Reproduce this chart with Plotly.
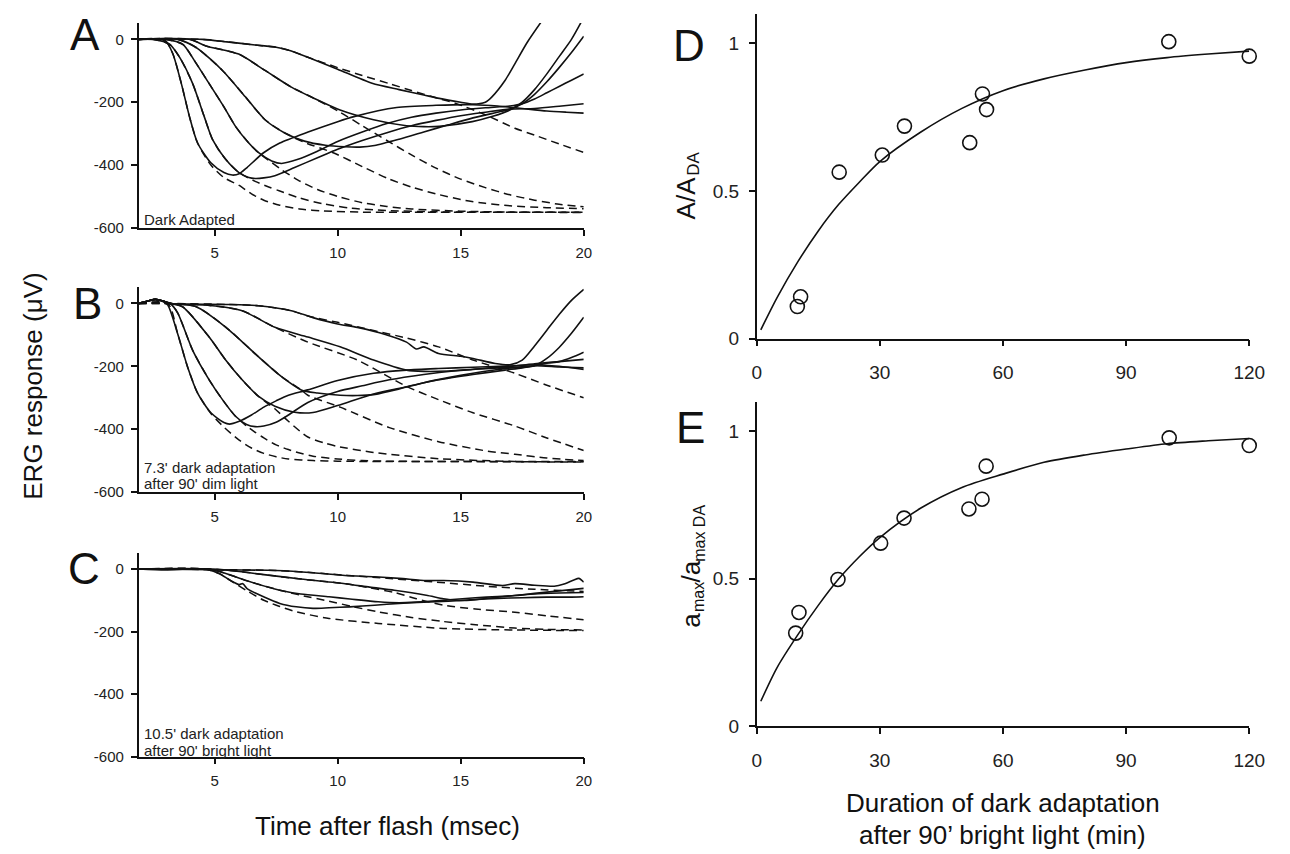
import plotly.graph_objects as go

W, H = 1290, 854

# ---------------- Panel A : Dark Adapted (solid = recorded, dashed = model) ----------------
A_s1_t = [1.91, 2.5, 3.0, 3.3, 3.65, 3.98, 4.31, 4.85, 5.38, 5.72, 6.0, 6.32, 6.99, 7.65, 8.8, 10.0, 10.66, 12.4, 14.0, 15.5, 16.5, 17.5, 18.5, 19.3, 20]
A_s1_v = [0, 2, -5, -45, -141, -246, -330, -393, -424, -432, -428, -408, -361, -330, -295, -262, -246, -217, -210, -208, -212, -220, -228, -232, -235]
A_s2_t = [1.91, 2.5, 3.18, 3.6, 4.11, 4.58, 4.92, 5.45, 5.99, 6.39, 6.65, 7.0, 7.45, 8.25, 9.18, 10, 11, 12, 13, 14, 15, 16, 17, 18, 19, 20]
A_s2_v = [0, 0, -16, -60, -141, -246, -319, -382, -424, -440, -443, -441, -434, -408, -377, -350, -322, -297, -275, -258, -243, -232, -222, -220, -213, -205]
A_s3_t = [1.91, 3.0, 3.71, 4.2, 4.78, 5.38, 5.85, 6.39, 6.79, 7.32, 7.72, 8.39, 9.18, 10, 11, 12, 13, 14, 15, 16, 17, 17.5, 18, 18.5, 19, 19.5, 20]
A_s3_v = [0, 0, -16, -70, -141, -215, -277, -330, -361, -387, -395, -382, -356, -325, -295, -268, -248, -235, -225, -218, -212, -205, -190, -170, -150, -130, -110]
A_s4_t = [1.91, 3.5, 4.25, 5.32, 6.25, 7.05, 7.85, 8.65, 9.5, 10.3, 10.9, 11.5, 12.5, 13.5, 14.5, 15.5, 16.5, 17.0, 17.5, 18, 18.5, 19, 19.5, 20]
A_s4_v = [0, 0, -26, -99, -183, -256, -298, -324, -337, -342, -343, -338, -318, -295, -272, -250, -232, -222, -205, -175, -135, -90, -42, 10]
A_s5_t = [1.91, 4.0, 4.65, 5.98, 7.05, 8.12, 9.05, 10.1, 11.46, 12.8, 13.5, 14.13, 15.47, 16.3, 17.0, 17.5, 18, 18.5, 19, 19.5, 20]
A_s5_v = [0, 0, -21, -47, -99, -152, -188, -225, -256, -275, -278, -277, -262, -245, -225, -200, -160, -110, -55, 0, 70]
A_s6_t = [1.91, 4.5, 5.5, 6.65, 7.5, 8.12, 8.79, 10, 11.4, 12.5, 13.5, 14.13, 15.0, 15.5, 16.0, 16.27, 16.8, 17.2, 17.7, 18.4]
A_s6_v = [0, 0, -8, -18, -25, -37, -57, -95, -140, -160, -177, -188, -200, -206, -200, -183, -131, -78, -10, 70]

A_d1_t = [1.91, 3.0, 3.3, 3.65, 3.98, 4.31, 4.85, 5.38, 6.0, 6.5, 7.0, 7.65, 8.45, 9.4, 11.0, 20.0]
A_d1_v = [0, -5, -45, -141, -246, -330, -400, -440, -465, -492, -512, -528, -540, -546, -550, -550]
A_d2_t = [1.91, 2.5, 3.18, 3.6, 4.11, 4.58, 4.92, 5.45, 5.99, 6.65, 7.2, 7.65, 8.45, 9.38, 10.5, 12.0, 14.0, 20.0]
A_d2_v = [0, 0, -16, -60, -141, -246, -319, -382, -424, -452, -470, -483, -505, -523, -537, -545, -549, -551]
A_d3_t = [1.91, 3.0, 3.71, 4.2, 4.78, 5.38, 5.85, 6.39, 6.79, 7.32, 7.72, 8.39, 9.18, 10, 11, 12, 13, 15, 17, 20]
A_d3_v = [0, 0, -16, -70, -141, -215, -277, -330, -361, -392, -415, -448, -478, -500, -520, -532, -540, -547, -550, -550]
A_d4_t = [1.91, 3.5, 4.25, 5.32, 6.25, 7.05, 7.85, 8.65, 9.82, 11.0, 12.1, 13.0, 14.0, 15.2, 16.0, 17.0, 18.5, 20.0]
A_d4_v = [0, 0, -26, -99, -183, -256, -298, -328, -361, -405, -445, -470, -492, -513, -522, -530, -536, -539]
A_d5_t = [1.91, 4.0, 4.65, 5.98, 7.05, 8.12, 9.05, 10.1, 11.0, 12.0, 13.0, 14.0, 15.0, 16.0, 17.0, 18.0, 19.0, 20.0]
A_d5_v = [0, 0, -21, -47, -99, -152, -188, -232, -275, -322, -368, -410, -445, -472, -495, -512, -525, -533]
A_d6_t = [1.91, 4.5, 5.5, 6.65, 7.5, 8.12, 8.79, 10.0, 11.0, 12.1, 13.0, 14.0, 14.8, 16.0, 17.2, 18.0, 19.0, 20.0]
A_d6_v = [0, 0, -8, -18, -25, -37, -57, -90, -115, -141, -163, -186, -204, -240, -283, -305, -333, -360]

# ---------------- Panel B : 7.3' dark adaptation after 90' dim light ----------------
B_s1_t = [1.91, 2.3, 2.6, 2.9, 3.1, 3.5, 3.9, 4.31, 4.85, 5.38, 5.6, 6.0, 6.5, 7.0, 7.5, 8.0, 8.79, 10.0, 11.46, 12.8, 14.1, 15.5, 17.2, 18.0, 19.0, 20.0]
B_s1_v = [0, 8, 13, 6, -5, -96, -201, -285, -348, -379, -384, -375, -355, -330, -310, -292, -275, -245, -222, -212, -207, -203, -198, -195, -200, -210]
B_s2_t = [1.91, 2.3, 2.6, 2.9, 3.2, 3.5, 4.11, 4.78, 5.32, 5.85, 6.3, 6.65, 7.0, 7.5, 8.0, 8.79, 10, 11, 12.1, 13.5, 14.8, 16, 17.2, 18, 19, 20]
B_s2_v = [0, 8, 13, 8, 0, -30, -149, -243, -306, -359, -385, -392, -390, -378, -355, -315, -280, -262, -243, -226, -214, -206, -199, -192, -185, -178]
B_s3_t = [1.91, 2.3, 2.6, 2.9, 3.2, 3.71, 4.78, 5.45, 6.12, 6.79, 7.45, 8.25, 9.0, 10, 11.46, 12.8, 14.1, 15.5, 16.8, 17.5, 18, 18.5, 19, 19.5, 20]
B_s3_v = [0, 8, 13, 8, 0, -11, -107, -180, -243, -296, -327, -346, -347, -325, -288, -265, -243, -226, -212, -205, -198, -190, -185, -172, -155]
B_s4_t = [1.91, 2.3, 2.6, 2.9, 3.2, 4.25, 5.45, 6.79, 7.72, 8.52, 9.18, 10.1, 10.8, 11.46, 12.5, 13.5, 14.5, 15.5, 16.5, 17.2, 18, 19, 20]
B_s4_v = [0, 8, 13, 8, 0, -10, -75, -170, -233, -275, -285, -292, -293, -290, -272, -252, -236, -222, -210, -204, -198, -202, -205]
B_s5_t = [1.91, 2.3, 2.6, 2.9, 3.2, 4.65, 6.12, 7.45, 8.79, 10.1, 11.46, 12.8, 13.5, 14.5, 15.5, 16.5, 17.5, 18, 18.5, 19, 19.5, 20]
B_s5_v = [0, 8, 13, 8, 0, -5, -23, -76, -107, -138, -180, -212, -216, -215, -210, -205, -203, -198, -175, -140, -95, -44]
B_s6_t = [1.91, 2.3, 2.6, 2.9, 3.2, 5.5, 6.79, 8.12, 9.0, 10, 10.8, 12, 12.8, 13.2, 13.5, 14.1, 15, 15.5, 16.4, 17, 17.5, 18, 18.5, 19, 19.5, 20]
B_s6_v = [0, 8, 13, 8, 0, -3, -7, -23, -45, -65, -76, -100, -123, -145, -138, -159, -168, -175, -191, -195, -180, -135, -85, -35, 10, 45]

B_d1_t = [1.91, 3.1, 3.5, 3.9, 4.31, 4.85, 5.4, 6.0, 6.5, 7.0, 7.5, 8.0, 9.0, 10.0, 12.0, 20.0]
B_d1_v = [0, 0, -96, -201, -285, -350, -395, -435, -460, -477, -488, -495, -500, -502, -503, -503]
B_d2_t = [1.91, 3.2, 3.5, 4.11, 4.78, 5.32, 5.85, 6.3, 6.65, 7.0, 7.5, 8.0, 8.5, 9.0, 10.0, 11.0, 12.0, 20.0]
B_d2_v = [0, 0, -30, -149, -243, -306, -359, -390, -410, -428, -450, -465, -477, -486, -495, -500, -502, -504]
B_d3_t = [1.91, 3.2, 3.71, 4.78, 5.45, 6.12, 6.79, 7.45, 8.0, 8.79, 9.5, 10.0, 11.46, 14.1, 17.2, 20.0]
B_d3_v = [0, 0, -11, -107, -180, -243, -296, -335, -375, -425, -445, -455, -474, -494, -503, -505]
B_d4_t = [1.91, 3.2, 4.25, 5.45, 6.79, 7.72, 8.52, 8.79, 10.1, 12.1, 14.1, 16.1, 17.2, 18.5, 20.0]
B_d4_v = [0, 0, -10, -75, -170, -233, -275, -292, -330, -395, -440, -470, -480, -492, -500]
B_d5_t = [1.91, 3.2, 4.65, 6.12, 7.45, 8.79, 10.8, 12.8, 14.1, 15.5, 17.2, 18.5, 20.0]
B_d5_v = [0, 0, -5, -23, -76, -123, -180, -264, -306, -348, -390, -428, -468]
B_d6_t = [1.91, 3.2, 5.5, 6.79, 8.12, 8.79, 10.0, 11.46, 12.8, 14.1, 15.5, 17.2, 18.5, 20.0]
B_d6_v = [0, 0, -3, -7, -23, -40, -60, -86, -110, -138, -180, -222, -260, -300]

# ---------------- Panel C : 10.5' dark adaptation after 90' bright light ----------------
C_s1_t = [1.91, 3, 4, 4.73, 5.2, 5.65, 6.0, 6.15, 6.32, 6.99, 7.65, 8.32, 9.0, 9.65, 10.5, 11.5, 12.5, 13.5, 14.5, 15.5, 16.5, 17.5, 18.5, 19.5, 20]
C_s1_v = [0, -3, 0, -2, -15, -37, -50, -47, -63, -89, -110, -121, -126, -124, -121, -116, -110, -106, -103, -98, -94, -92, -90, -90, -89]
C_s2_t = [1.91, 4.6, 5.2, 6.32, 7.65, 8.5, 9.65, 10.5, 11.65, 12.5, 13.2, 14.0, 14.8, 15.6, 16.5, 17.2, 18.0, 19.0, 20.0]
C_s2_v = [0, 0, -8, -38, -68, -80, -89, -96, -105, -108, -106, -102, -97, -92, -88, -85, -80, -77, -75]
C_s3_t = [1.91, 4.8, 6.0, 7.0, 8.5, 10.3, 11.3, 12.3, 13.6, 14.3, 14.8, 15.4, 16.2, 17.2, 18, 19, 20]
C_s3_v = [0, 0, -8, -18, -32, -47, -58, -68, -84, -95, -100, -100, -93, -85, -78, -70, -62]
C_s4_t = [1.91, 5.0, 7.5, 9.0, 10.3, 11.5, 12.5, 13.6, 14.3, 15.5, 16.7, 17.2, 18.0, 18.8, 19.2, 19.6, 19.8, 20]
C_s4_v = [0, -2, -5, -12, -21, -25, -30, -37, -37, -42, -53, -47, -52, -55, -48, -35, -30, -42]

C_d1_t = [1.91, 4.6, 5.2, 5.65, 6.32, 7.0, 7.65, 8.32, 9.65, 11.65, 14.3, 17.2, 20.0]
C_d1_v = [0, 0, -15, -37, -70, -100, -120, -137, -158, -174, -190, -195, -197]
C_d2_t = [1.91, 4.6, 5.2, 6.32, 7.65, 8.5, 9.65, 10.6, 11.65, 13.0, 14.3, 15.6, 17.2, 18.5, 20.0]
C_d2_v = [0, 0, -8, -38, -68, -84, -103, -120, -137, -155, -168, -178, -189, -193, -195]
C_d3_t = [1.91, 4.8, 6.0, 7.0, 8.5, 10.3, 11.3, 12.3, 13.2, 14.3, 15.6, 17.2, 18.5, 20]
C_d3_v = [0, 0, -8, -18, -32, -47, -60, -75, -95, -116, -128, -138, -150, -162]
C_d4_t = [1.91, 5.0, 7.5, 9.0, 10.3, 12.0, 14.0, 16.0, 18.0, 20.0]
C_d4_v = [0, -2, -5, -12, -20, -30, -42, -55, -65, -72]

# ---------------- Panels D and E ----------------
D_x = [9.9, 10.7, 20.1, 30.6, 36.0, 51.9, 55.0, 56.0, 100.4, 120.0]
D_y = [0.109, 0.142, 0.564, 0.622, 0.720, 0.664, 0.829, 0.776, 1.006, 0.957]
D_fit_x = [1, 5, 10, 15, 20, 25, 30, 40, 50, 60, 70, 80, 90, 100, 110, 120]
D_fit_y = [0.03, 0.14, 0.26, 0.365, 0.455, 0.53, 0.60, 0.70, 0.78, 0.84, 0.88, 0.91, 0.935, 0.952, 0.964, 0.974]

E_x = [9.5, 10.3, 19.8, 30.2, 35.9, 51.7, 54.9, 55.9, 100.5, 120.0]
E_y = [0.316, 0.386, 0.498, 0.621, 0.706, 0.737, 0.770, 0.882, 0.978, 0.952]
E_fit_x = [1, 5, 10, 15, 20, 25, 30, 40, 50, 60, 70, 80, 90, 100, 110, 120]
E_fit_y = [0.085, 0.2, 0.31, 0.41, 0.50, 0.575, 0.64, 0.74, 0.81, 0.855, 0.895, 0.92, 0.94, 0.958, 0.968, 0.976]

ERG_YTICKS = [0, -200, -400, -600]
ERG_YTEXT = ["0", "-200", "-400", "-600"]
ERG_XTICKS = [5, 10, 15, 20]
DE_XTICKS = [0, 30, 60, 90, 120]
DE_YTICKS = [0, 0.5, 1]
DE_YTEXT = ["0", "0.5", "1"]

FONT = "Liberation Sans, Arial, sans-serif"
INK = "#111111"


def pxx(x):
    return x / W


def pxy(y):
    return 1 - y / H


fig = go.Figure()

panels = [
    ("x", "y", [(A_s1_t, A_s1_v), (A_s2_t, A_s2_v), (A_s3_t, A_s3_v), (A_s4_t, A_s4_v), (A_s5_t, A_s5_v), (A_s6_t, A_s6_v)],
     [(A_d1_t, A_d1_v), (A_d2_t, A_d2_v), (A_d3_t, A_d3_v), (A_d4_t, A_d4_v), (A_d5_t, A_d5_v), (A_d6_t, A_d6_v)]),
    ("x2", "y2", [(B_s1_t, B_s1_v), (B_s2_t, B_s2_v), (B_s3_t, B_s3_v), (B_s4_t, B_s4_v), (B_s5_t, B_s5_v), (B_s6_t, B_s6_v)],
     [(B_d1_t, B_d1_v), (B_d2_t, B_d2_v), (B_d3_t, B_d3_v), (B_d4_t, B_d4_v), (B_d5_t, B_d5_v), (B_d6_t, B_d6_v)]),
    ("x3", "y3", [(C_s1_t, C_s1_v), (C_s2_t, C_s2_v), (C_s3_t, C_s3_v), (C_s4_t, C_s4_v)],
     [(C_d1_t, C_d1_v), (C_d2_t, C_d2_v), (C_d3_t, C_d3_v), (C_d4_t, C_d4_v)]),
]

for xa, ya, solids, dashes in panels:
    for t, v in dashes:
        fig.add_trace(go.Scatter(x=t, y=v, mode="lines", xaxis=xa, yaxis=ya, showlegend=False,
                                 line=dict(color=INK, width=1.5, dash="8px,5px", shape="spline", smoothing=0.7),
                                 hoverinfo="skip"))
    for t, v in solids:
        fig.add_trace(go.Scatter(x=t, y=v, mode="lines", xaxis=xa, yaxis=ya, showlegend=False,
                                 line=dict(color=INK, width=1.6, shape="spline", smoothing=0.7),
                                 hoverinfo="skip"))

for xa, ya, fx, fy, px_, py_ in [("x4", "y4", D_fit_x, D_fit_y, D_x, D_y), ("x5", "y5", E_fit_x, E_fit_y, E_x, E_y)]:
    fig.add_trace(go.Scatter(x=fx, y=fy, mode="lines", xaxis=xa, yaxis=ya, showlegend=False,
                             line=dict(color=INK, width=1.6, shape="spline", smoothing=0.8), hoverinfo="skip"))
    fig.add_trace(go.Scatter(x=px_, y=py_, mode="markers", xaxis=xa, yaxis=ya, showlegend=False, cliponaxis=False,
                             marker=dict(symbol="circle-open", size=14, color=INK, line=dict(width=1.6, color=INK)),
                             hoverinfo="skip"))

erg_x = dict(range=[1.914, 20], domain=[pxx(127.7), pxx(580.2)], showline=True, linecolor=INK, linewidth=1.5,
             ticks="outside", ticklen=6, tickwidth=1.5, tickcolor=INK, tickvals=ERG_XTICKS, showgrid=False,
             zeroline=False, tickfont=dict(size=15, color="#222", family=FONT), ticklabelstandoff=4)
erg_y = dict(range=[-600, 52], showline=True, linecolor=INK, linewidth=1.5, ticks="outside", ticklen=6,
             tickwidth=1.5, tickcolor=INK, tickvals=ERG_YTICKS, ticktext=ERG_YTEXT, showgrid=False,
             zeroline=False, tickfont=dict(size=15, color="#222", family=FONT), ticklabelstandoff=4)

de_x = dict(range=[0, 120], domain=[pxx(756), pxx(1256.7)], showline=True, linecolor=INK, linewidth=1.5,
            ticks="outside", ticklen=6, tickwidth=1.5, tickcolor=INK, tickvals=DE_XTICKS, showgrid=False,
            zeroline=False, tickfont=dict(size=19, color="#222", family=FONT), ticklabelstandoff=10)
de_y = dict(range=[0, 1.1], showline=True, linecolor=INK, linewidth=1.5, ticks="outside", ticklen=6,
            tickwidth=1.5, tickcolor=INK, tickvals=DE_YTICKS, ticktext=DE_YTEXT, showgrid=False,
            zeroline=False, tickfont=dict(size=19, color="#222", family=FONT), ticklabelstandoff=6)

fig.update_layout(
    width=W, height=H, autosize=False, margin=dict(l=0, r=0, t=0, b=0),
    paper_bgcolor="white", plot_bgcolor="white", font=dict(family=FONT, color=INK),
    xaxis=dict(erg_x, anchor="y"),
    yaxis=dict(erg_y, anchor="x", domain=[pxy(222.7), pxy(15.2)]),
    xaxis2=dict(erg_x, anchor="y2"),
    yaxis2=dict(erg_y, anchor="x2", domain=[pxy(490.3), pxy(282.8)]),
    xaxis3=dict(erg_x, anchor="y3"),
    yaxis3=dict(erg_y, anchor="x3", domain=[pxy(758.5), pxy(551.8)]),
    xaxis4=dict(de_x, anchor="y4"),
    yaxis4=dict(de_y, anchor="x4", domain=[pxy(335), pxy(6)]),
    xaxis5=dict(de_x, anchor="y5"),
    yaxis5=dict(de_y, anchor="x5", domain=[pxy(727.7), pxy(399)]),
)

annots = []


def note(text, x, y, size, xanchor="center", yanchor="middle", angle=0, color=INK):
    annots.append(dict(text=text, x=pxx(x), y=pxy(y), xref="paper", yref="paper", showarrow=False,
                       xanchor=xanchor, yanchor=yanchor, textangle=angle, align="left",
                       font=dict(size=size, family=FONT, color=color)))


for letter, lx, ly in [("A", 73, 27), ("B", 76, 299), ("C", 72, 568), ("D", 687, 38), ("E", 689, 425)]:
    note(letter, lx, ly, 44)

note("Dark Adapted", 131, 214, 15, xanchor="left", color="#222")
note("7.3' dark adaptation", 131, 465, 15, xanchor="left", color="#222")
note("after 90' dim light", 131, 482, 15, xanchor="left", color="#222")
note("10.5' dark adaptation", 131, 735, 15, xanchor="left", color="#222")
note("after 90' bright light", 131, 752, 15, xanchor="left", color="#222")

note("ERG response (\u03bcV)", 20, 383, 26, angle=-90)
note("Time after flash (msec)", 381, 829, 26)
note("Duration of dark adaptation", 1006, 805, 26)
note("after 90\u2019 bright light (min)", 1006, 838, 26)

# D y title: A/A with subscript DA (rotated, reading bottom to top)
note("A/A", 684, 192, 26, angle=-90)
note("DA", 692, 158, 17, angle=-90)
# E y title: a_max / a_max DA
note("a", 689, 620, 26, angle=-90)
note("max", 697, 597, 16, angle=-90)
note("/a", 689, 571, 26, angle=-90)
note("max DA", 697, 532, 16, angle=-90)

fig.update_layout(annotations=annots)

fig.write_html("out.html")
